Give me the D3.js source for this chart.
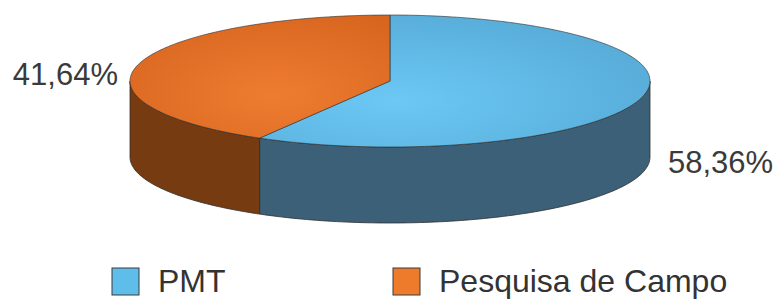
<!DOCTYPE html>
<html>
<head>
<meta charset="utf-8">
<script src="https://cdn.jsdelivr.net/npm/d3@7"></script>
<style>
  body { margin: 0; background: #fff; }
  svg { display: block; font-family: "Liberation Sans", Arial, sans-serif; }
</style>
</head>
<body>
<script>
// chart data
const categories = ["PMT", "Pesquisa de Campo"];
const values = [58.36, 41.64];
const valueLabels = ["58,36%", "41,64%"];

const topColors = ["#6cc8f5", "#ee7c30"];
const topEdge = ["#56aad6", "#d8651f"];
const sideColors = ["#3d6079", "#773b12"];
const legendColors = ["#5fbdea", "#ee7a2c"];

const W = 778, H = 300;
const cx = 390, cy = 81, rx = 260, ry = 66, depth = 76;

const svg = d3.select("body").append("svg")
  .attr("width", W).attr("height", H);

const defs = svg.append("defs");
categories.forEach((c, i) => {
  const g = defs.append("radialGradient")
    .attr("id", "top" + i)
    .attr("cx", i === 0 ? "35%" : "55%").attr("cy", "65%").attr("r", "75%");
  g.append("stop").attr("offset", "0%").attr("stop-color", topColors[i]);
  g.append("stop").attr("offset", "100%").attr("stop-color", topEdge[i]);
});

const pie = d3.pie().sort(null).value(d => d)(values);

// angle measured clockwise from 12 o'clock
const px = a => cx + rx * Math.sin(a);
const py = (a, dy = 0) => cy - ry * Math.cos(a) + dy;

function arcPoints(a0, a1, dy = 0) {
  const n = Math.max(2, Math.ceil(Math.abs(a1 - a0) / 0.02));
  return d3.range(n + 1).map(k => {
    const a = a0 + (a1 - a0) * k / n;
    return [px(a), py(a, dy)];
  });
}

const line = d3.line();

// side walls (only the front half is visible)
const g = svg.append("g");
pie.forEach((p, i) => {
  const a0 = Math.max(p.startAngle, Math.PI / 2);
  const a1 = Math.min(p.endAngle, Math.PI * 1.5);
  if (a1 <= a0) return;
  const pts = arcPoints(a0, a1).concat(arcPoints(a1, a0, depth));
  g.append("path")
    .attr("d", line(pts) + "Z")
    .attr("fill", sideColors[i])
    .attr("stroke", "#2e2e2e").attr("stroke-width", 0.8);
});

// top faces
pie.forEach((p, i) => {
  const pts = [[cx, cy]].concat(arcPoints(p.startAngle, p.endAngle));
  g.append("path")
    .attr("d", line(pts) + "Z")
    .attr("fill", "url(#top" + i + ")")
    .attr("stroke", "#2e2e2e").attr("stroke-width", 0.6)
    .attr("stroke-linejoin", "round");
});

// value labels
pie.forEach((p, i) => {
  const mid = (p.startAngle + p.endAngle) / 2;
  const right = Math.sin(mid) > 0;
  svg.append("text")
    .attr("x", right ? cx + rx + 18 : cx - rx - 12)
    .attr("y", right ? cy + depth + 16 : cy + 4)
    .attr("text-anchor", right ? "start" : "end")
    .attr("font-size", 31)
    .attr("fill", "#3a3a3a")
    .text(valueLabels[i]);
});

// legend
const legendX = d3.scalePoint().domain(categories).range([112, 393]);
const leg = svg.append("g").selectAll("g").data(categories).join("g")
  .attr("transform", d => `translate(${legendX(d)},268)`);
leg.append("rect")
  .attr("width", 27).attr("height", 27)
  .attr("fill", (d, i) => legendColors[i])
  .attr("stroke", "#3a3a3a").attr("stroke-width", 1);
leg.append("text")
  .attr("x", 46).attr("y", 24)
  .attr("font-size", 32)
  .attr("fill", "#333")
  .text(d => d);
</script>
</body>
</html>
